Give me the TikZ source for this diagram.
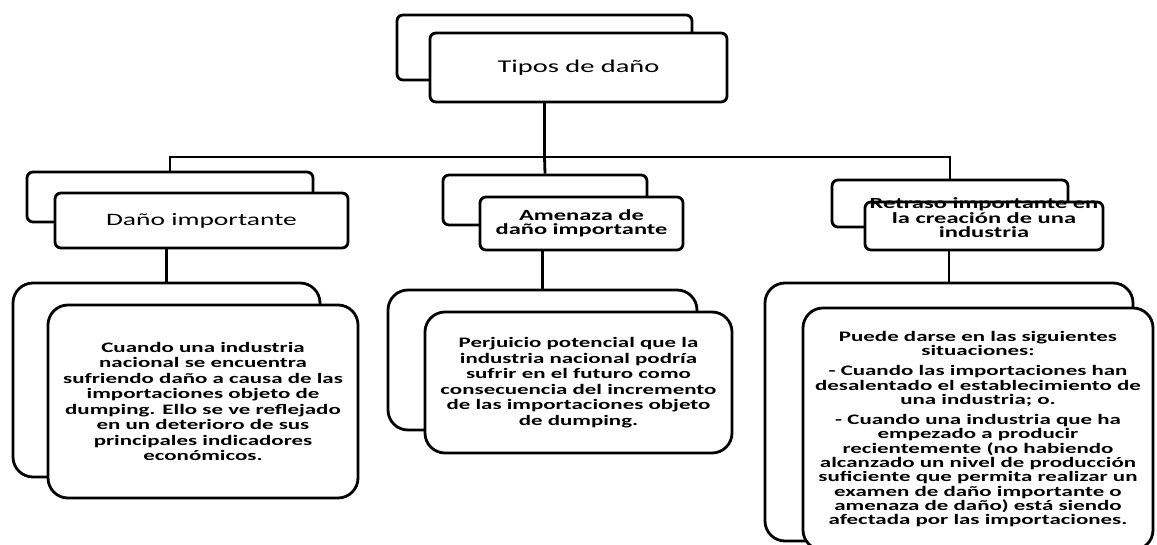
\documentclass[tikz,border=0pt]{standalone}
\usepackage{fontspec}
\setmainfont[FakeStretch=1.58]{Carlito}
\begin{document}
\begin{tikzpicture}[x=1pt,y=-1pt,
  sbox/.style={draw, line width=2.8pt, rounded corners=6pt, fill=white, inner sep=0pt},
  bbox/.style={draw, line width=2.8pt, rounded corners=20pt, fill=white, inner sep=0pt},
  headtxt/.style={font=\fontsize{18}{21}\selectfont, align=center},
  midtxt/.style={font=\fontsize{15.5}{14.5}\selectfont\bfseries, align=center},
  bodytxt/.style={font=\fontsize{14.5}{15.5}\selectfont\bfseries, align=center},
  conn/.style={line width=2.8pt}]
\useasboundingbox (0,0) rectangle (1157,545);
% level 1
\node[sbox, minimum width=295pt, minimum height=65pt] (tb) at (544.5,47.5) {};
\node[sbox, minimum width=297pt, minimum height=69pt, headtxt] (tf) at (578.5,67.5) {Tipos de daño};
% level 2 back boxes
\node[sbox, minimum width=286pt, minimum height=50pt] (lb) at (170,197) {};
\node[sbox, minimum width=204pt, minimum height=50pt] (mb) at (545,200) {};
\node[sbox, minimum width=236pt, minimum height=47pt] (rb) at (950,203.5) {};
% level 2 front boxes
\node[sbox, minimum width=293pt, minimum height=55pt, headtxt, font=\fontsize{17.4}{20}\selectfont] (lf) at (201.5,220.5) {Daño importante};
\node[sbox, minimum width=203pt, minimum height=53pt, midtxt] (mf) at (581.5,223.5) {Amenaza de\\daño importante};
\node[sbox, minimum width=238pt, minimum height=48pt] (rf) at (984,226) {};
\node[midtxt] (rft) at (984,218) {Retraso importante en\\la creación de una\\industria};
% connectors level 1 -> level 2
\coordinate (bar) at (544.5,157);
\draw[conn] (tb.center |- tf.south) -- (bar);
\draw[conn] (lb.north) |- (bar) -| (rb.north);
\draw[conn] (bar) -- (mb.north);
% level 3 back boxes
\node[bbox, minimum width=307pt, minimum height=194pt] (lbb) at (166.5,380) {};
\node[bbox, minimum width=309pt, minimum height=140pt] (mbb) at (542.5,360) {};
\node[bbox, minimum width=368pt, minimum height=258pt] (rbb) at (949,412) {};
% level 3 front boxes
\node[bbox, minimum width=310pt, minimum height=193pt, bodytxt] (lbf) at (203,401.5) {Cuando una industria\\nacional se encuentra\\sufriendo daño a causa de las\\importaciones objeto de\\dumping. Ello se ve reflejado\\en un deterioro de sus\\principales indicadores\\económicos.};
\node[bbox, minimum width=307pt, minimum height=141pt, bodytxt] (mbf) at (578.5,382.5) {Perjuicio potencial que la\\industria nacional podría\\sufrir en el futuro como\\consecuencia del incremento\\de las importaciones objeto\\de dumping.};
\node[bbox, minimum width=350pt, minimum height=242pt, bodytxt, font=\fontsize{14.5}{14.3}\selectfont\bfseries] (rbf) at (978,429) {Puede darse en las siguientes\\situaciones:\\[6pt]- Cuando las importaciones han\\desalentado el establecimiento de\\una industria; o.\\[6pt]- Cuando una industria que ha\\empezado a producir\\recientemente (no habiendo\\alcanzado un nivel de producción\\suficiente que permita realizar un\\examen de daño importante o\\amenaza de daño) está siendo\\afectada por las importaciones.};
% connectors level 2 -> level 3
\draw[conn] (lbb.north) -- (lbb.north |- lf.south);
\draw[conn] (mbb.north) -- (mbb.north |- mf.south);
\draw[conn] (rbb.north) -- (rbb.north |- rf.south);
\end{tikzpicture}
\end{document}
